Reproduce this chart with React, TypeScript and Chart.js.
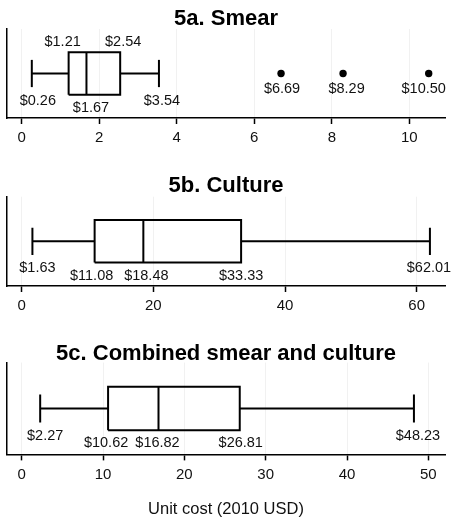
import React, { useEffect, useRef } from "react";
import { Chart, registerables } from "chart.js";

Chart.register(...registerables);

const FONT = "'Liberation Sans', Arial, Helvetica, sans-serif";

// ---- data (min, Q1, median, Q3, max) ----
const panelTitles = ["5a. Smear", "5b. Culture", "5c. Combined smear and culture"];
const smearStats = [0.26, 1.21, 1.67, 2.54, 3.54];
const smearOutliers = [6.69, 8.29, 10.5];
const cultureStats = [1.63, 11.08, 18.48, 33.33, 62.01];
const cultureOutliers: number[] = [];
const combinedStats = [2.27, 10.62, 16.82, 26.81, 48.23];
const combinedOutliers: number[] = [];
const smearTicks = [0, 2, 4, 6, 8, 10];
const cultureTicks = [0, 20, 40, 60];
const combinedTicks = [0, 10, 20, 30, 40, 50];
const axisTitle = "Unit cost (2010 USD)";

// ---- styling / layout ----
const BOX_LO = 0.262;
const BOX_HI = 0.738;
const CAP = 0.153;

type Kind = "above" | "box" | "whisker";

type PanelCfg = {
  title: string;
  stats: number[];
  outliers: number[];
  ticks: number[];
  min: number;
  max: number;
  kinds: Kind[];
  dx: number[];
  odx: number[];
  top: number;
  height: number;
  titlePad: { top: number; bottom: number };
  layoutBottom: number;
  showAxisTitle: boolean;
};

const panels: PanelCfg[] = [
  {
    title: panelTitles[0],
    stats: smearStats,
    outliers: smearOutliers,
    ticks: smearTicks,
    min: -0.38,
    max: 10.92,
    kinds: ["whisker", "above", "box", "above", "whisker"],
    dx: [6, -6, 4.5, 3, 3],
    odx: [1, 3.5, -5],
    top: 0,
    height: 156,
    titlePad: { top: 10.5, bottom: 0.9 },
    layoutBottom: 4,
    showAxisTitle: false,
  },
  {
    title: panelTitles[1],
    stats: cultureStats,
    outliers: cultureOutliers,
    ticks: cultureTicks,
    min: -2.23,
    max: 64.3,
    kinds: ["whisker", "box", "box", "box", "whisker"],
    dx: [5, -3, 3, 0, -1],
    odx: [],
    top: 150,
    height: 174,
    titlePad: { top: 27, bottom: 2.1 },
    layoutBottom: 4,
    showAxisTitle: false,
  },
  {
    title: panelTitles[2],
    stats: combinedStats,
    outliers: combinedOutliers,
    ticks: combinedTicks,
    min: -1.81,
    max: 52.05,
    kinds: ["whisker", "box", "box", "box", "whisker"],
    dx: [5, -2, -1, 1, 4],
    odx: [],
    top: 318,
    height: 202,
    titlePad: { top: 27, bottom: 0 },
    layoutBottom: 0,
    showAxisTitle: true,
  },
];

const labelPlugin = {
  id: "boxLabels",
  afterDatasetsDraw(chart: any, _args: any, opts: any) {
    const p: PanelCfg = opts.panel;
    if (!p) return;
    const { ctx } = chart;
    const x = chart.scales.x;
    const y = chart.scales.y;
    const yc = y.getPixelForValue(0.5);
    const yTop = y.getPixelForValue(BOX_HI);
    const yBot = y.getPixelForValue(BOX_LO);
    ctx.save();
    ctx.font = `14.5px ${FONT}`;
    ctx.fillStyle = "#111";
    ctx.textAlign = "center";
    ctx.textBaseline = "middle";
    p.stats.forEach((v, i) => {
      const k = p.kinds[i];
      const ty = k === "above" ? yTop - 10.6 : k === "box" ? yBot + 12.5 : yc + 26.5;
      ctx.fillText("$" + v.toFixed(2), x.getPixelForValue(v) + (p.dx[i] || 0), ty + 0.6);
    });
    p.outliers.forEach((v, i) => {
      ctx.fillText("$" + v.toFixed(2), x.getPixelForValue(v) + (p.odx[i] || 0), yc + 14.5 + 0.6);
    });
    ctx.restore();
  },
};

function lineDs(data: { x: number; y: number }[]) {
  return {
    data,
    borderColor: "#000",
    borderWidth: 2,
    pointRadius: 0,
    fill: false,
    tension: 0,
    borderJoinStyle: "miter" as const,
    borderCapStyle: "butt" as const,
  };
}

function BoxPanel({ p }: { p: PanelCfg }) {
  const ref = useRef<HTMLCanvasElement>(null);
  useEffect(() => {
    if (!ref.current) return;
    const [mn, q1, md, q3, mx] = p.stats;
    const datasets: any[] = [
      lineDs([
        { x: q1, y: BOX_LO },
        { x: q3, y: BOX_LO },
        { x: q3, y: BOX_HI },
        { x: q1, y: BOX_HI },
        { x: q1, y: BOX_LO },
      ]),
      lineDs([
        { x: md, y: BOX_LO },
        { x: md, y: BOX_HI },
      ]),
      lineDs([
        { x: mn, y: 0.5 },
        { x: q1, y: 0.5 },
      ]),
      lineDs([
        { x: q3, y: 0.5 },
        { x: mx, y: 0.5 },
      ]),
      lineDs([
        { x: mn, y: 0.5 - CAP },
        { x: mn, y: 0.5 + CAP },
      ]),
      lineDs([
        { x: mx, y: 0.5 - CAP },
        { x: mx, y: 0.5 + CAP },
      ]),
      {
        data: p.outliers.map((v) => ({ x: v, y: 0.5 })),
        showLine: false,
        pointRadius: 3.7,
        pointBackgroundColor: "#000",
        pointBorderColor: "#000",
        pointBorderWidth: 0,
      },
    ];
    const chart = new Chart(ref.current, {
      type: "line",
      data: { datasets },
      plugins: [labelPlugin],
      options: {
        responsive: false,
        animation: false,
        events: [],
        layout: { padding: { left: 7, right: 7, top: 0, bottom: p.layoutBottom } },
        plugins: {
          legend: { display: false },
          tooltip: { enabled: false },
          title: {
            display: true,
            text: p.title,
            color: "#000",
            font: { family: FONT, size: 22, weight: "bold", lineHeight: 0.8 },
            padding: p.titlePad,
          },
          boxLabels: { panel: p },
        } as any,
        scales: {
          x: {
            type: "linear",
            min: p.min,
            max: p.max,
            afterBuildTicks: (s: any) => {
              s.ticks = p.ticks.map((v) => ({ value: v }));
            },
            ticks: {
              font: { family: FONT, size: 15 },
              color: "#111",
              padding: 5,
              maxRotation: 0,
              autoSkip: false,
              callback: (v: any) => String(v),
            },
            grid: {
              color: "#f1f1f1",
              tickColor: "#000",
              tickLength: 6,
              lineWidth: 1,
              tickWidth: 1.5,
            },
            border: { display: true, color: "#000", width: 1.5 },
            title: {
              display: p.showAxisTitle,
              text: axisTitle,
              color: "#111",
              font: { family: FONT, size: 16.5, lineHeight: 1.2 },
              padding: { top: 10.7, bottom: 1.1 },
            },
          },
          y: {
            type: "linear",
            min: 0,
            max: 1,
            display: true,
            ticks: { display: false },
            grid: { display: false, drawTicks: false },
            border: { display: true, color: "#000", width: 1.5 },
          },
        },
      } as any,
    });
    return () => chart.destroy();
  }, [p]);
  return (
    <canvas
      ref={ref}
      width={452}
      height={p.height}
      style={{ position: "absolute", left: 0, top: p.top, display: "block" }}
    />
  );
}

export default function App() {
  return (
    <div
      style={{
        position: "absolute",
        left: 0,
        top: 0,
        width: 452,
        height: 520,
        background: "#fff",
        overflow: "hidden",
      }}
    >
      {panels.map((p, i) => (
        <BoxPanel key={i} p={p} />
      ))}
    </div>
  );
}
